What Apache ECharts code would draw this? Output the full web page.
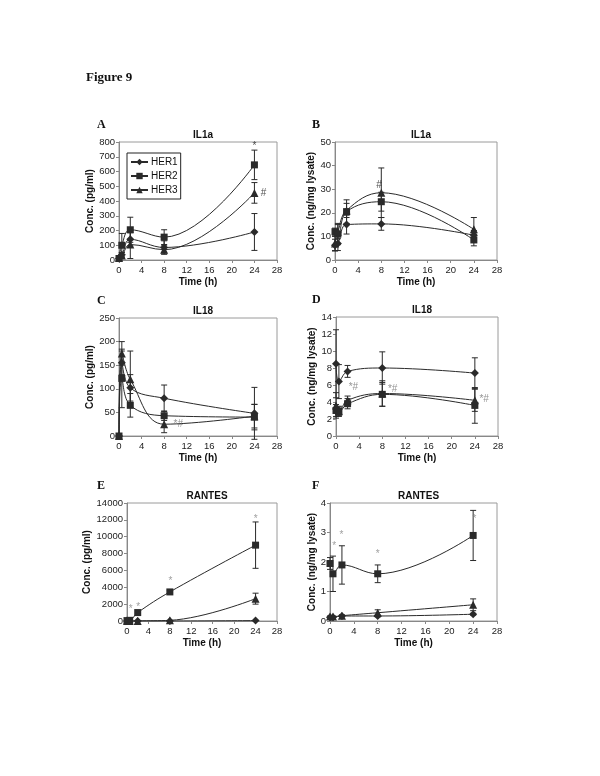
<!DOCTYPE html>
<html><head><meta charset="utf-8">
<script src="https://cdn.jsdelivr.net/npm/echarts@6/dist/echarts.min.js"></script>
<style>html,body{margin:0;padding:0;background:#fff}#c{width:600px;height:776px}</style>
</head><body><div id="c"></div>
<script>
const times = [0, 0.5, 2, 8, 24];
const xTicks = [0, 4, 8, 12, 16, 20, 24, 28];

// Panel A  IL1a (pg/ml)
const a_her1 = [10, 35, 140, 85, 190];   const a_her1_sd = [5, 15, 45, 45, 125];
const a_her2 = [10, 100, 205, 155, 645]; const a_her2_sd = [5, 80, 85, 50, 100];
const a_her3 = [15, 30, 105, 70, 455];   const a_her3_sd = [5, 20, 95, 30, 70];
const a_notes = [[24, 770, '*'], [25.6, 450, '#']];
// Panel B  IL1a (ng/mg lysate)
const b_her1 = [6.3, 7, 15, 15.3, 10.5]; const b_her1_sd = [2.5, 3, 4, 2.7, 2];
const b_her2 = [12, 11, 20.5, 24.7, 8.5]; const b_her2_sd = [1.5, 4.5, 5, 4, 2.5];
const b_her3 = [7, 12, 21, 28.5, 13];    const b_her3_sd = [3, 3, 3, 10.5, 5];
const b_notes = [[7.6, 31.5, '#']];
// Panel C  IL18 (pg/ml)
const c_her1 = [0, 155, 102, 80, 48];  const c_her1_sd = [0, 25, 28, 28, 55];
const c_her2 = [0, 122, 65, 43, 40];   const c_her2_sd = [0, 62, 25, 10, 27];
const c_her3 = [0, 175, 120, 25, 42];  const c_her3_sd = [0, 25, 60, 18, 25];
const c_notes = [[10.5, 24, '*#']];
// Panel D  IL18 (ng/mg lysate)
const d_her1 = [8.5, 6.4, 7.6, 8.0, 7.4]; const d_her1_sd = [4, 2, 0.7, 1.9, 1.8];
const d_her2 = [3.0, 2.9, 3.8, 4.9, 3.6]; const d_her2_sd = [0.7, 0.5, 0.6, 1.4, 2.1];
const d_her3 = [3.6, 2.9, 4.2, 5.0, 4.2]; const d_her3_sd = [1.5, 0.6, 0.5, 1.5, 1.3];
const d_notes = [[3.0, 5.7, '*#'], [9.8, 5.5, '*#'], [25.6, 4.3, '*#']];
// Panel E  RANTES (pg/ml)
const e_her1 = [0, 0, 0, 0, 50];          const e_her1_sd = [0, 0, 0, 0, 0];
const e_her2 = [50, 80, 1000, 3450, 9000]; const e_her2_sd = [0, 0, 0, 200, 2750];
const e_her3 = [0, 0, 10, 80, 2650];      const e_her3_sd = [0, 0, 0, 0, 650];
const e_notes = [[0.7, 1450, '*'], [2.1, 1650, '*'], [8.1, 4700, '*'], [24, 12100, '*']];
// Panel F  RANTES (ng/mg lysate)
const f_her1 = [0.13, 0.13, 0.17, 0.17, 0.23]; const f_her1_sd = [0, 0, 0, 0.03, 0.03];
const f_her2 = [1.95, 1.6, 1.9, 1.6, 2.9];     const f_her2_sd = [0.2, 0.6, 0.65, 0.3, 0.85];
const f_her3 = [0.15, 0.15, 0.18, 0.28, 0.55]; const f_her3_sd = [0.02, 0.02, 0.03, 0.1, 0.2];
const f_notes = [[0.7, 2.55, '*'], [1.9, 2.9, '*'], [8, 2.27, '*'], [24.2, 3.45, '*']];

const panels = [
  {lab:'A', title:'IL1a', yname:'Conc. (pg/ml)', ymax:800, yint:100, g:[119,142,158,118], gap:21,
   s:[[a_her1,a_her1_sd],[a_her2,a_her2_sd],[a_her3,a_her3_sd]], notes:a_notes, nc:'#222'},
  {lab:'B', title:'IL1a', yname:'Conc. (ng/mg lysate)', ymax:50, yint:10, g:[335,142,162,118], gap:18,
   s:[[b_her1,b_her1_sd],[b_her2,b_her2_sd],[b_her3,b_her3_sd]], notes:b_notes, nc:'#222'},
  {lab:'C', title:'IL18', yname:'Conc. (pg/ml)', ymax:250, yint:50, g:[119,318,158,118], gap:24,
   s:[[c_her1,c_her1_sd],[c_her2,c_her2_sd],[c_her3,c_her3_sd]], notes:c_notes, nc:'#777'},
  {lab:'D', title:'IL18', yname:'Conc. (ng/mg lysate)', ymax:14, yint:2, g:[336,317,162,119], gap:17,
   s:[[d_her1,d_her1_sd],[d_her2,d_her2_sd],[d_her3,d_her3_sd]], notes:d_notes, nc:'#777'},
  {lab:'E', title:'RANTES', yname:'Conc. (pg/ml)', ymax:14000, yint:2000, g:[127,503,150,118], gap:33,
   s:[[e_her1,e_her1_sd],[e_her2,e_her2_sd],[e_her3,e_her3_sd]], notes:e_notes, nc:'#888'},
  {lab:'F', title:'RANTES', yname:'Conc. (ng/mg lysate)', ymax:4, yint:1, g:[330,503,167,118], gap:13,
   s:[[f_her1,f_her1_sd],[f_her2,f_her2_sd],[f_her3,f_her3_sd]], notes:f_notes, nc:'#888'}
];
const names = ['HER1','HER2','HER3'];
const symbols = ['diamond','rect','triangle'];
const symSizes = [8,7,8];
const ink = '#2a2a2a';
const font = 'Liberation Sans, Arial, sans-serif';

const grid=[], xAxis=[], yAxis=[], series=[], title=[];
title.push({text:'Figure 9', left:81, top:66, textStyle:{fontFamily:'Liberation Serif, Times New Roman, serif', fontWeight:'bold', fontSize:13, color:'#111'}});

function errItem(params, api){
  const x=api.value(0), y=api.value(1), e=api.value(2);
  if(!e) return null;
  const t=api.coord([x,y+e]), b=api.coord([x,y-e]), w=3;
  const st={stroke:ink, lineWidth:1};
  return {type:'group', children:[
    {type:'line', shape:{x1:t[0],y1:t[1],x2:b[0],y2:b[1]}, style:st},
    {type:'line', shape:{x1:t[0]-w,y1:t[1],x2:t[0]+w,y2:t[1]}, style:st},
    {type:'line', shape:{x1:b[0]-w,y1:b[1],x2:b[0]+w,y2:b[1]}, style:st}
  ]};
}

panels.forEach((p,i)=>{
  const [l,t,w,h]=p.g;
  grid.push({left:l, top:t, width:w, height:h, show:true, borderColor:'#9a9a9a', borderWidth:1, containLabel:false});
  title.push({text:p.title, left:l+w/2, top:t-17, textAlign:'center', textStyle:{fontFamily:font, fontWeight:'bold', fontSize:10, color:'#111'}});
  title.push({text:p.lab, left:(i%2===0)?92:307, top:t-28, textStyle:{fontFamily:'Liberation Serif, Times New Roman, serif', fontWeight:'bold', fontSize:12, color:'#111'}});
  xAxis.push({gridIndex:i, type:'value', min:0, max:28, interval:4, name:'Time (h)', nameLocation:'middle', nameGap:17,
    nameTextStyle:{fontFamily:font, fontWeight:'bold', fontSize:10, color:'#111'},
    axisLine:{lineStyle:{color:'#888'}}, axisTick:{show:true, length:3, lineStyle:{color:'#888'}},
    axisLabel:{fontFamily:font, fontSize:9.5, color:'#222', margin:5}, splitLine:{show:false}});
  yAxis.push({gridIndex:i, type:'value', min:0, max:p.ymax, interval:p.yint, name:p.yname, nameLocation:'middle', nameGap:p.gap, nameRotate:90,
    nameTextStyle:{fontFamily:font, fontWeight:'bold', fontSize:10, color:'#111'},
    axisLine:{show:true, lineStyle:{color:'#888'}}, axisTick:{show:true, length:3, lineStyle:{color:'#888'}},
    axisLabel:{fontFamily:font, fontSize:9.5, color:'#222', margin:4, formatter:(v)=>String(v)}, splitLine:{show:false}});
  p.s.forEach((pair,k)=>{
    const vals=pair[0], sd=pair[1];
    series.push({type:'custom', xAxisIndex:i, yAxisIndex:i, renderItem:errItem, silent:true, z:1,
      encode:{x:0,y:1}, data:times.map((tt,j)=>[tt, vals[j], sd[j]])});
    series.push({type:'line', name:names[k], xAxisIndex:i, yAxisIndex:i, smooth:0.4, z:3,
      symbol:symbols[k], symbolSize:symSizes[k], showSymbol:true,
      lineStyle:{color:ink, width:1}, itemStyle:{color:ink, borderWidth:0},
      data:times.map((tt,j)=>[tt, vals[j]])});
  });
  series.push({type:'scatter', xAxisIndex:i, yAxisIndex:i, symbolSize:0, silent:true, z:4,
    label:{show:true, position:'inside', formatter:(d)=>d.value[2], fontFamily:font, fontSize:10, color:p.nc},
    data:p.notes.map(n=>[n[0], n[1], n[2]])});
});

const chart = echarts.init(document.getElementById('c'), null, {renderer:'canvas'});
chart.setOption({
  animation:false,
  backgroundColor:'#fff',
  title, grid, xAxis, yAxis, series,
  legend:{data:names, orient:'vertical', left:127, top:153, padding:[4,3,4,3], itemGap:4, itemWidth:17, itemHeight:8,
    borderColor:'#222', borderWidth:1, backgroundColor:'#fff',
    textStyle:{fontFamily:font, fontSize:10, color:'#111', padding:[0,0,0,-2]}}
});
</script></body></html>
